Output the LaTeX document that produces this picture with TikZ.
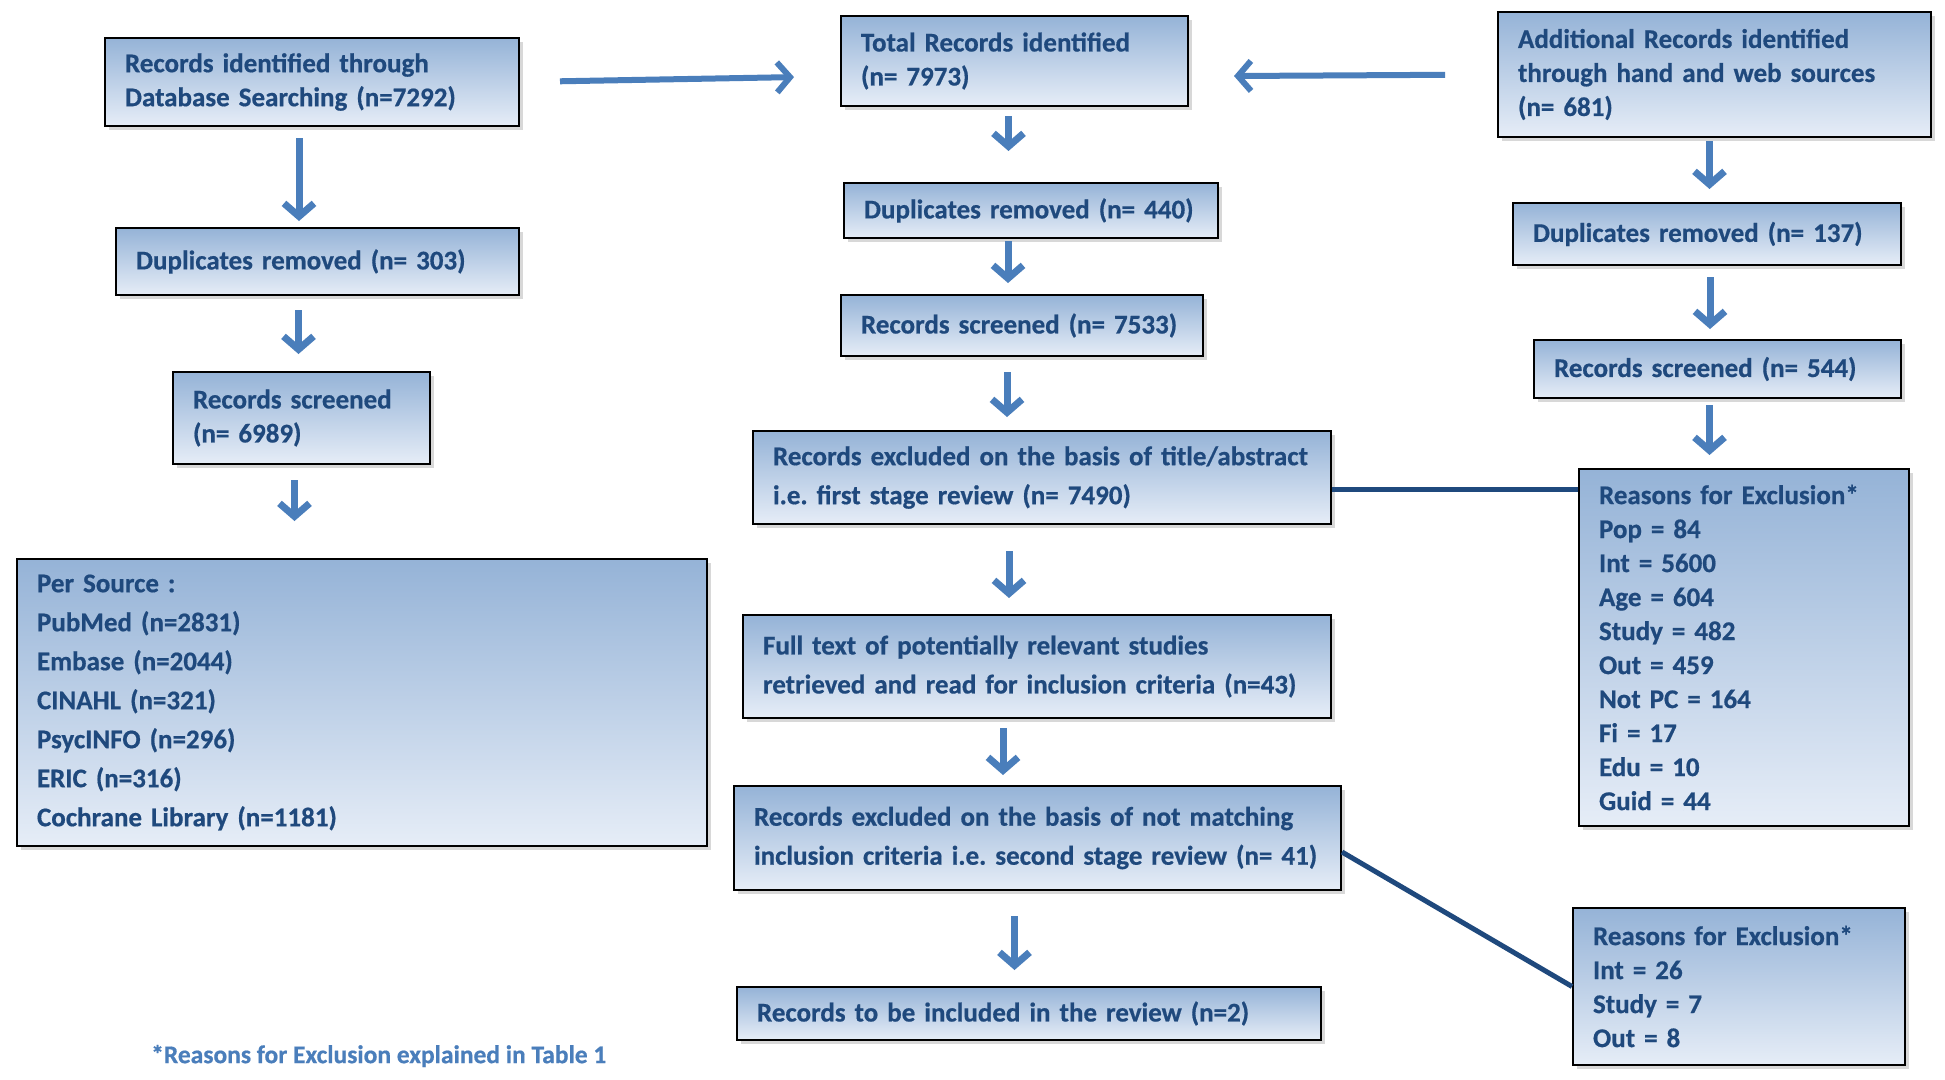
\documentclass[tikz,border=0pt]{standalone}
\usepackage{fontspec}
\setmainfont{Carlito}[BoldFeatures={FakeBold=0.6}]
\usetikzlibrary{arrows.meta,shadows}

\definecolor{txtblue}{HTML}{1F497D}
\definecolor{arrblue}{HTML}{4A7EBB}
\definecolor{boxtop}{HTML}{95B3D7}
\definecolor{boxbot}{HTML}{E6EDF7}
\newcommand{\boxfont}{\fontsize{27}{34}\selectfont\bfseries\frenchspacing}
\newcommand{\boxfontwide}{\fontsize{27}{39}\selectfont\bfseries\frenchspacing}

\begin{document}
\begin{tikzpicture}[x=1pt,y=-1pt,
    box/.style={draw=black, line width=2pt, top color=boxtop, bottom color=boxbot,
        drop shadow={shadow xshift=4pt, shadow yshift=-4pt, opacity=0.3},
        text=txtblue, font=\boxfont, align=left, anchor=north west,
        inner xsep=20pt, inner ysep=0pt},
    wide/.style={font=\boxfontwide},
    downarrow/.style={draw=arrblue, line width=7pt, -{Straight Barb[length=13pt,width=30pt]}},
    sidearrow/.style={draw=arrblue, line width=6pt, -{Straight Barb[length=13pt,width=30pt]}},
    link/.style={draw=txtblue, line width=5pt}]
    \fill[white] (0,0) rectangle (1945,1079);
    \useasboundingbox (0,0) rectangle (1945,1079);

    % Left column
    \node[box, text width=374pt, minimum height=88pt] (dbrec) at (104,37)
        {Records identified through\\Database Searching (n=7292)};
    \node[box, text width=363pt, minimum height=67pt] (dbdup) at (115,227)
        {Duplicates removed (n= 303)};
    \node[box, text width=217pt, minimum height=92pt] (dbscr) at (172,371)
        {Records screened\\(n= 6989)};
    \node[box, wide, text width=650pt, minimum height=287pt] (source) at (16,558)
        {Per Source :\\PubMed (n=2831)\\Embase (n=2044)\\CINAHL (n=321)\\PsycINFO (n=296)\\ERIC (n=316)\\Cochrane Library (n=1181)};

    % Middle column
    \node[box, text width=307pt, minimum height=90pt] (total) at (840,15)
        {Total Records identified\\(n= 7973)};
    \node[box, text width=334pt, minimum height=55pt] (totdup) at (843,182)
        {Duplicates removed (n= 440)};
    \node[box, text width=322pt, minimum height=61pt] (totscr) at (840,294)
        {Records screened (n= 7533)};
    \node[box, wide, text width=538pt, minimum height=93pt] (excl1) at (752,430)
        {Records excluded on the basis of title/abstract\\i.e. first stage review (n= 7490)};
    \node[box, wide, text width=548pt, minimum height=103pt] (fulltxt) at (742,614)
        {Full text of potentially relevant studies\\retrieved and read for inclusion criteria (n=43)};
    \node[box, wide, text width=567pt, minimum height=104pt] (excl2) at (733,785)
        {Records excluded on the basis of not matching\\inclusion criteria i.e. second stage review (n= 41)};
    \node[box, text width=544pt, minimum height=53pt] (incl) at (736,986)
        {Records to be included in the review (n=2)};

    % Right column
    \node[box, text width=393pt, minimum height=125pt] (addrec) at (1497,11)
        {Additional Records identified\\through hand and web sources\\(n= 681)};
    \node[box, text width=348pt, minimum height=62pt] (adddup) at (1512,202)
        {Duplicates removed (n= 137)};
    \node[box, text width=327pt, minimum height=58pt] (addscr) at (1533,339)
        {Records screened (n= 544)};
    \node[box, text width=290pt, minimum height=357pt] (reason1) at (1578,468)
        {Reasons for Exclusion*\\Pop = 84\\Int = 5600\\Age = 604\\Study = 482\\Out = 459\\Not PC = 164\\Fi = 17\\Edu = 10\\Guid = 44};
    \node[box, text width=292pt, minimum height=157pt] (reason2) at (1572,907)
        {Reasons for Exclusion*\\Int = 26\\Study = 7\\Out = 8};

    \node[anchor=west, inner xsep=0pt, text=arrblue, font=\fontsize{25.5}{30}\selectfont\bfseries] (note) at (151,1056)
        {*Reasons for Exclusion explained in Table 1};

    % Arrows
    \draw[sidearrow, shorten <=40pt, shorten >=46pt] (dbrec.east) -- (total.185);
    \draw[sidearrow, shorten <=52pt, shorten >=45pt] (addrec.west) -- (total.355);
    \draw[downarrow, shorten <=11pt, shorten >=6pt] ([xshift=-13pt]dbrec.south) -- ([xshift=-13pt]dbrec.south |- dbdup.north);
    \draw[downarrow, shorten <=14pt, shorten >=17pt] ([xshift=-3pt]dbscr.north |- dbdup.south) -- ([xshift=-3pt]dbscr.north);
    \draw[downarrow, shorten <=15pt, shorten >=37pt] ([xshift=-7pt]dbscr.south) -- ([xshift=-7pt]dbscr.south |- source.north);
    \draw[downarrow, shorten <=9pt, shorten >=31pt] ([xshift=-6pt]total.south) -- ([xshift=-6pt]total.south |- totdup.north);
    \draw[downarrow, shorten <=2pt, shorten >=11pt] ([xshift=-14pt]totscr.north |- totdup.south) -- ([xshift=-14pt]totscr.north);
    \draw[downarrow, shorten <=15pt, shorten >=13pt] ([xshift=-15pt]totscr.south) -- ([xshift=-15pt]totscr.south |- excl1.north);
    \draw[downarrow, shorten <=26pt, shorten >=16pt] ([xshift=-33pt]excl1.south) -- ([xshift=-33pt]excl1.south |- fulltxt.north);
    \draw[downarrow, shorten <=9pt, shorten >=10pt] ([xshift=-34pt]fulltxt.south) -- ([xshift=-34pt]fulltxt.south |- excl2.north);
    \draw[downarrow, shorten <=25pt, shorten >=16pt] ([xshift=-23pt]excl2.south) -- ([xshift=-23pt]excl2.south |- incl.north);
    \draw[downarrow, shorten <=3pt, shorten >=13pt] ([xshift=-5pt]addrec.south) -- ([xshift=-5pt]addrec.south |- adddup.north);
    \draw[downarrow, shorten <=11pt, shorten >=10pt] ([xshift=3pt]adddup.south) -- ([xshift=3pt]adddup.south |- addscr.north);
    \draw[downarrow, shorten <=6pt, shorten >=13pt] ([xshift=-8pt]addscr.south) -- ([xshift=-8pt]addscr.south |- reason1.north);

    % Links to the reasons
    \draw[link] ([yshift=-12pt]excl1.east) -- ([yshift=-12pt]excl1.east -| reason1.west);
    \draw[link] ([yshift=-14pt]excl2.east) -- (reason2.west);
\end{tikzpicture}
\end{document}
